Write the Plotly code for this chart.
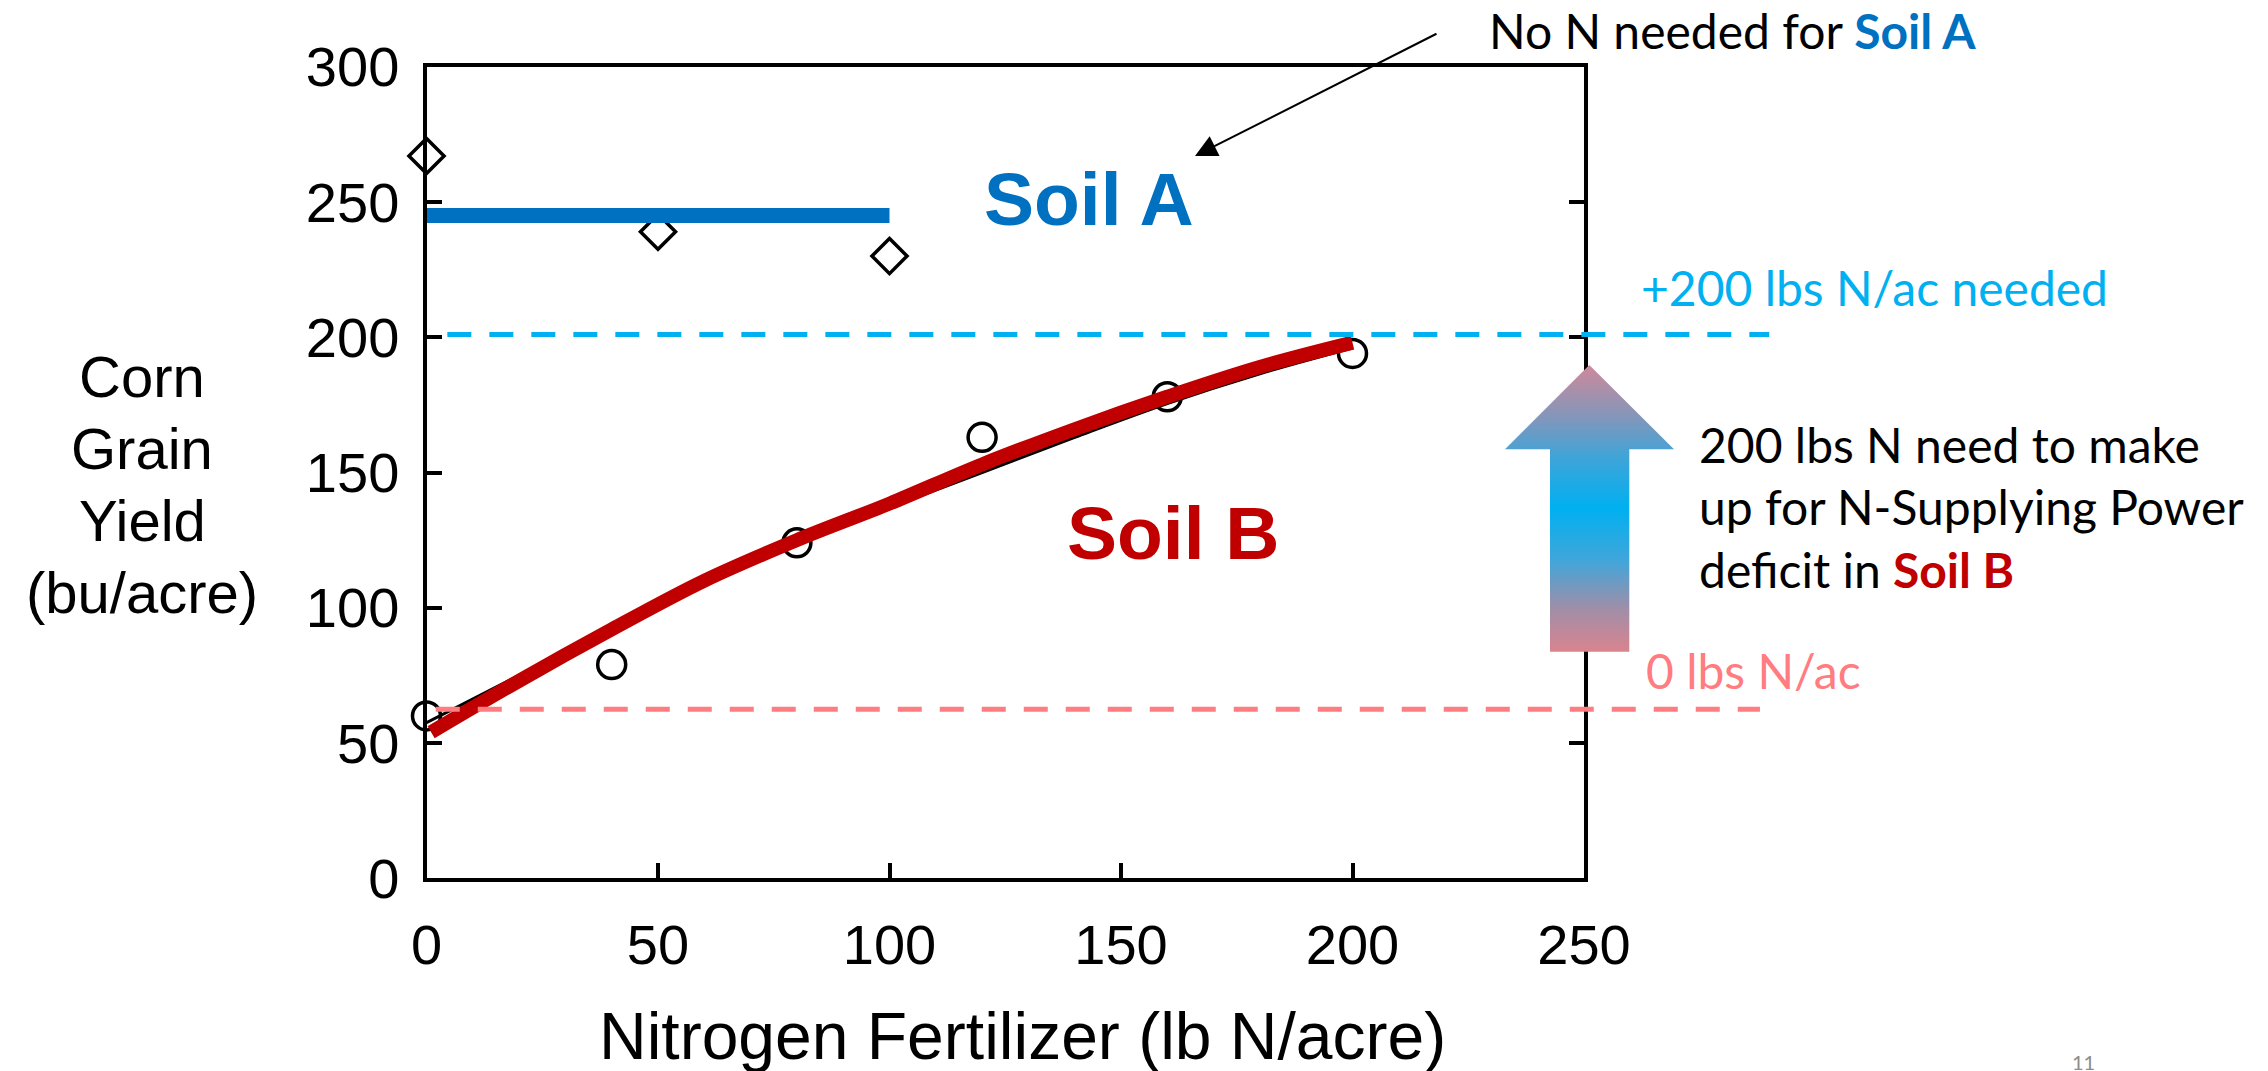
import plotly.graph_objects as go

W, H = 2268, 1071

# ---------------- data ----------------
n_rate_a = [0, 50, 100]
yield_a = [267, 239, 230]
plateau_x = [0, 100]
plateau_y = [245, 245]

n_rate_b = [0, 40, 80, 120, 160, 200]
yield_b = [60, 79, 124, 163, 178, 194]

fit_x = [0, 20, 40, 60, 80, 100, 120, 140, 160, 180, 200]
fit_black_y = [57.5, 75, 92.5, 109, 124, 137, 150, 163, 175.5, 186.5, 196]
curve_red_x = [1, 20, 40, 60, 80, 100, 120, 140, 160, 180, 200]
curve_red_y = [54, 73, 92, 110, 125, 138.5, 153, 166, 178, 189, 198]

needed_x = [4.5, 290]
needed_y = [201, 201]
zero_x = [2, 288]
zero_y = [62.5, 62.5]

x_ticks = [0, 50, 100, 150, 200, 250]
y_ticks = [0, 50, 100, 150, 200, 250, 300]
y_title_lines = ["Corn", "Grain", "Yield", "(bu/acre)"]

# ---------------- geometry ----------------
PX_L, PX_R = 426.5, 1584.0
PX_B, PX_T = 878.3, 66.7
X_MAX, Y_MAX = 250, 300
ux = (PX_R - PX_L) / X_MAX
uy = (PX_B - PX_T) / Y_MAX


def dx(p):
    return (p - PX_L) / ux


def dy(p):
    return (PX_B - p) / uy


ARIAL = "Liberation Sans, Arial, sans-serif"
CAL = "Lato, Carlito, Calibri, sans-serif"
BLUE = "#0070C0"
RED = "#C00000"
CYAN = "#00B0F0"
PINK = "#FF7C80"

fig = go.Figure()

# main subplot traces (markers first, lines on top)
fig.add_trace(go.Scatter(x=n_rate_a, y=yield_a, mode="markers", cliponaxis=False,
                         marker=dict(symbol="diamond-open", size=27, color="black",
                                     line=dict(width=3.5, color="black")),
                         xaxis="x", yaxis="y"))
fig.add_trace(go.Scatter(x=n_rate_b, y=yield_b, mode="markers", cliponaxis=False,
                         marker=dict(symbol="circle-open", size=28, color="black",
                                     line=dict(width=3.5, color="black")),
                         xaxis="x", yaxis="y"))
fig.add_trace(go.Scatter(x=fit_x, y=fit_black_y, mode="lines",
                         line=dict(color="black", width=3, shape="spline"),
                         xaxis="x", yaxis="y"))
fig.add_trace(go.Scatter(x=curve_red_x, y=curve_red_y, mode="lines",
                         line=dict(color=RED, width=14, shape="spline"),
                         xaxis="x", yaxis="y"))
fig.add_trace(go.Scatter(x=plateau_x, y=plateau_y, mode="lines",
                         line=dict(color=BLUE, width=15),
                         xaxis="x", yaxis="y"))

# overlay (full-figure) traces
fig.add_trace(go.Scatter(x=needed_x, y=needed_y, mode="lines",
                         line=dict(color=CYAN, width=5, dash="24px,18px"),
                         xaxis="x2", yaxis="y2"))
fig.add_trace(go.Scatter(x=zero_x, y=zero_y, mode="lines",
                         line=dict(color=PINK, width=5, dash="24px,18px"),
                         xaxis="x2", yaxis="y2"))

# gradient block arrow
arrow_px = [(1589.3, 365), (1674, 449.3), (1629.3, 449.3), (1629.3, 651.7),
            (1550, 651.7), (1550, 449.3), (1505, 449.3), (1589.3, 365)]
fig.add_trace(go.Scatter(x=[dx(p[0]) for p in arrow_px], y=[dy(p[1]) for p in arrow_px],
                         mode="lines", fill="toself", line=dict(width=0),
                         fillgradient=dict(type="vertical",
                                           colorscale=[[0, "#D9848E"], [0.15, "#A08EA8"],
                                                       [0.32, "#40A6DA"], [0.5, "#00B0F0"],
                                                       [0.68, "#40A4D8"], [0.82, "#8496BA"],
                                                       [1, "#CE899B"]]),
                         xaxis="x2", yaxis="y2"))

ann = []


def text(px, py, s, size, color="black", family=ARIAL, xanchor="center", yanchor="middle", align="center"):
    ann.append(dict(x=dx(px), y=dy(py), xref="x2", yref="y2", text=s, showarrow=False,
                    font=dict(size=size, color=color, family=family),
                    xanchor=xanchor, yanchor=yanchor, align=align))


# axis titles
for i, line in enumerate(y_title_lines):
    text(142, 376 + 72 * i, line, 58)
text(1022, 1036, "Nitrogen Fertilizer (lb N/acre)", 66)

# labels in plot
text(1089, 199, "<b>Soil A</b>", 75, BLUE)
text(1173, 533, "<b>Soil B</b>", 75, RED)

# right side notes
text(1487, 30, "No N needed for <b><span style='color:%s'>Soil A</span></b>" % BLUE, 48,
     family=CAL, xanchor="left")
text(1639, 287, "+200 lbs N/ac needed", 48, CYAN, family=CAL, xanchor="left")
text(1697, 507, "200 lbs N need to make<br>up for N-Supplying Power<br>deficit in "
     "<b><span style='color:%s'>Soil B</span></b>" % RED, 48,
     family=CAL, xanchor="left", align="left")
text(1644, 670, "0 lbs N/ac", 48, PINK, family=CAL, xanchor="left")
text(2083, 1062, "11", 20, "#8C8C8C", family=CAL)

# pointer arrow
ann.append(dict(x=dx(1195), y=dy(156), ax=dx(1438), ay=dy(33),
                xref="x2", yref="y2", axref="x2", ayref="y2", text="",
                showarrow=True, arrowhead=2, arrowsize=2.2, arrowwidth=2, arrowcolor="black"))

axis_common = dict(showgrid=False, zeroline=False, showline=True, linecolor="black",
                   linewidth=4, ticks="inside", ticklen=15, tickwidth=4, tickcolor="black",
                   tickfont=dict(family=ARIAL, size=56, color="black"), automargin=False)

fig.update_layout(
    width=W, height=H,
    margin=dict(l=0, r=0, t=0, b=0, pad=0),
    paper_bgcolor="white", plot_bgcolor="rgba(0,0,0,0)",
    showlegend=False,
    xaxis=dict(domain=[PX_L / W, PX_R / W], range=[0, X_MAX], tickvals=x_ticks,
               mirror=True, anchor="y", ticklabelstandoff=14, **axis_common),
    yaxis=dict(domain=[1 - PX_B / H, 1 - PX_T / H], range=[0, Y_MAX], tickvals=y_ticks,
               mirror="ticks", anchor="x", ticklabelstandoff=12, **axis_common),
    xaxis2=dict(domain=[0, 1], range=[dx(0), dx(W)], visible=False, anchor="y2",
                fixedrange=True),
    yaxis2=dict(domain=[0, 1], range=[dy(H), dy(0)], visible=False, anchor="x2",
                fixedrange=True),
    annotations=ann,
)

fig.write_html("out.html")
